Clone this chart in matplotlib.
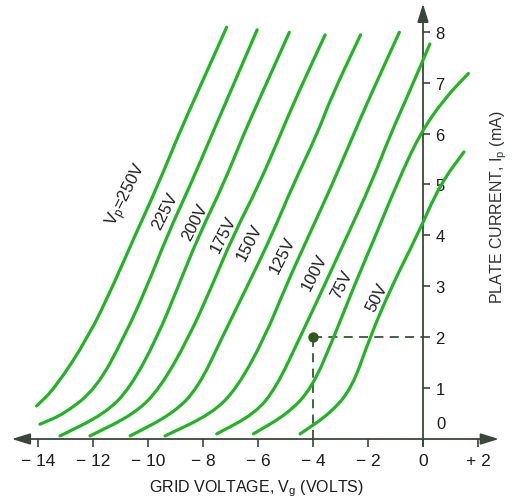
import matplotlib
matplotlib.use("Agg")
import matplotlib.pyplot as plt
from matplotlib import font_manager as fm
from matplotlib.path import Path
from matplotlib.patches import PathPatch

# ---------------- data ----------------
plate_voltages = ["250", "225", "200", "175", "150", "125", "100", "75", "50"]

vg_250 = [-14.05, -13.38, -12.17, -11.28, -10.47, -9.63, -8.87, -8.29, -7.14]
ip_250 = [0.65, 1.0, 2.0, 3.0, 4.0, 5.0, 6.0, 6.7, 8.09]

vg_225 = [-13.93, -13.02, -11.87, -10.87, -10.03, -9.30, -8.45, -7.66, -7.10, -6.03]
ip_225 = [0.29, 0.5, 1.0, 2.0, 3.0, 4.0, 5.0, 6.0, 6.7, 8.04]

vg_200 = [-13.20, -11.56, -10.65, -9.66, -8.90, -8.15, -7.26, -6.51, -5.93, -4.86]
ip_200 = [0.06, 0.5, 1.0, 2.0, 3.0, 4.0, 5.0, 6.0, 6.7, 7.99]

vg_175 = [-12.11, -10.47, -9.56, -8.51, -7.68, -6.90, -5.96, -5.17, -4.62, -3.56]
ip_175 = [0.06, 0.5, 1.0, 2.0, 3.0, 4.0, 5.0, 6.0, 6.7, 7.94]

vg_150 = [-10.65, -9.09, -8.18, -7.30, -6.39, -5.50, -4.72, -3.84, -3.35, -2.27]
ip_150 = [0.06, 0.5, 1.0, 2.0, 3.0, 4.0, 5.0, 6.0, 6.7, 7.94]

vg_125 = [-9.38, -7.67, -6.76, -5.75, -4.99, -4.15, -3.30, -2.51, -1.95, -0.86]
ip_125 = [0.06, 0.5, 1.0, 2.0, 3.0, 4.0, 5.0, 6.0, 6.7, 7.99]

vg_100 = [-7.50, -6.11, -5.35, -4.47, -3.60, -2.75, -1.90, -1.17, -0.59, 0.25]
ip_100 = [0.10, 0.5, 1.0, 2.0, 3.0, 4.0, 5.0, 6.0, 6.7, 7.76]

vg_75 = [-6.17, -4.91, -4.04, -3.24, -2.51, -1.72, -0.96, -0.11, 0.80, 1.65]
ip_75 = [0.10, 0.5, 1.0, 2.0, 3.0, 4.0, 5.0, 6.0, 6.7, 7.18]

vg_50 = [-4.47, -3.38, -2.58, -1.93, -1.14, -0.21, 0.62, 1.49]
ip_50 = [0.10, 0.5, 1.0, 2.0, 3.0, 4.0, 5.0, 5.64]

curves_vg = [vg_250, vg_225, vg_200, vg_175, vg_150, vg_125, vg_100, vg_75, vg_50]
curves_ip = [ip_250, ip_225, ip_200, ip_175, ip_150, ip_125, ip_100, ip_75, ip_50]

# curve label anchors (grid volts, mA)
label_vg = [-10.73, -9.38, -8.29, -7.27, -6.29, -5.09, -3.93, -2.95, -1.67]
label_ip = [4.81, 4.48, 4.28, 4.03, 3.87, 3.63, 3.28, 3.04, 2.79]

# operating point
op_vg = -4
op_ip = 2

x_ticks = [-14, -12, -10, -8, -6, -4, -2, 0, 2]
x_tick_labels = ["\u2212 14", "\u2212 12", "\u2212 10", "\u2212 8", "\u2212 6",
                 "\u2212 4", "\u2212 2", "0", "+ 2"]
y_ticks = [1, 2, 3, 4, 5, 6, 7, 8]
y_tick_labels = ["1", "2", "3", "4", "5", "6", "7", "8"]

# ---------------- style ----------------
names = {f.name for f in fm.fontManager.ttflist}
FONT = "DejaVu Sans"
for cand in ["Liberation Sans", "DejaVu Sans"]:
    if cand in names:
        FONT = cand
        break
plt.rcParams["font.family"] = [FONT, "DejaVu Sans"]
plt.rcParams["mathtext.fontset"] = "custom"
plt.rcParams["mathtext.rm"] = FONT
plt.rcParams["mathtext.it"] = FONT + ":italic"
plt.rcParams["mathtext.bf"] = FONT + ":bold"

GREEN = "#22b425"
AXIS = "#3a463a"
DASH = "#2f5a34"
TXT = "#1c1c1c"

W, H = 519, 502
fig = plt.figure(figsize=(W / 100, H / 100), dpi=100)
ax = fig.add_axes([0, 0, 1, 1])
ax.set_xlim(-15.382, 3.491)
ax.set_ylim(-1.218, 8.644)
ax.patch.set_visible(False)

for s in ax.spines.values():
    s.set_visible(False)
ax.spines["bottom"].set_position(("data", 0))
ax.spines["right"].set_position(("data", 0))
ax.xaxis.tick_bottom()
ax.yaxis.tick_right()

ax.set_xticks(x_ticks)
ax.set_xticklabels(x_tick_labels)
ax.set_yticks(y_ticks)
ax.set_yticklabels(y_tick_labels)
ax.tick_params(axis="x", direction="out", length=6, width=1.2, color=AXIS,
               pad=4, labelsize=12.5, labelcolor=TXT)
ax.tick_params(axis="y", direction="out", length=5, width=1.2, color=AXIS,
               pad=4, labelsize=12, labelcolor=TXT)
ax.text(0.50, 0.30, "0", fontsize=12, color=TXT, ha="left", va="center")

# axes with arrows
ax.annotate("", xy=(2.76, 0), xytext=(-14.95, 0),
            arrowprops=dict(arrowstyle="<|-|>,head_length=0.55,head_width=0.17",
                            color=AXIS, lw=1.3, mutation_scale=20,
                            shrinkA=0, shrinkB=0))
ax.annotate("", xy=(0, 8.55), xytext=(0, -0.14),
            arrowprops=dict(arrowstyle="-|>,head_length=0.55,head_width=0.17",
                            color=AXIS, lw=1.3, mutation_scale=20,
                            shrinkA=0, shrinkB=0))


def smooth_path(xs, ys):
    """Quadratic-Bezier rendering through the read points (drawn curve style)."""
    pts = list(zip(xs, ys))
    verts = [pts[0]]
    codes = [Path.MOVETO]
    mid = lambda a, b: ((a[0] + b[0]) / 2, (a[1] + b[1]) / 2)
    verts.append(mid(pts[0], pts[1]))
    codes.append(Path.LINETO)
    for i in range(1, len(pts) - 1):
        verts += [pts[i], mid(pts[i], pts[i + 1])]
        codes += [Path.CURVE3, Path.CURVE3]
    verts.append(pts[-1])
    codes.append(Path.LINETO)
    return Path(verts, codes)


# characteristic curves
for vg, ip in zip(curves_vg, curves_ip):
    ax.add_patch(PathPatch(smooth_path(vg, ip), facecolor="none", edgecolor=GREEN,
                           lw=2.3, capstyle="round", joinstyle="round", zorder=3))

# curve labels
for i, (pv, lx, ly) in enumerate(zip(plate_voltages, label_vg, label_ip)):
    txt = (r"V$_\mathrm{p}$=" + pv + "V") if i == 0 else pv + "V"
    ax.text(lx, ly, txt, rotation=63, ha="center", va="center",
            fontsize=12, color=TXT, zorder=4)

# operating point with dashed projections
ax.plot([op_vg, op_vg], [0, op_ip], color=DASH, lw=1.3, dashes=(5, 3.5), zorder=2)
ax.plot([op_vg, 0], [op_ip, op_ip], color=DASH, lw=1.3, dashes=(5, 3.5), zorder=2)
ax.plot([op_vg], [op_ip], "o", ms=6.5, color="#2d5a1f", zorder=5)

# axis titles
fig.text(257 / W, 1 - 489 / H, r"GRID VOLTAGE, V$_\mathrm{g}$ (VOLTS)",
         ha="center", va="center", fontsize=11.5, color=TXT)
fig.text(499 / W, 1 - 207 / H, r"PLATE CURRENT, I$_\mathrm{p}$ (mA)",
         ha="center", va="center", rotation=90, fontsize=11.5, color="#2e332e")

fig.savefig("out.png", dpi=100, facecolor="white")
